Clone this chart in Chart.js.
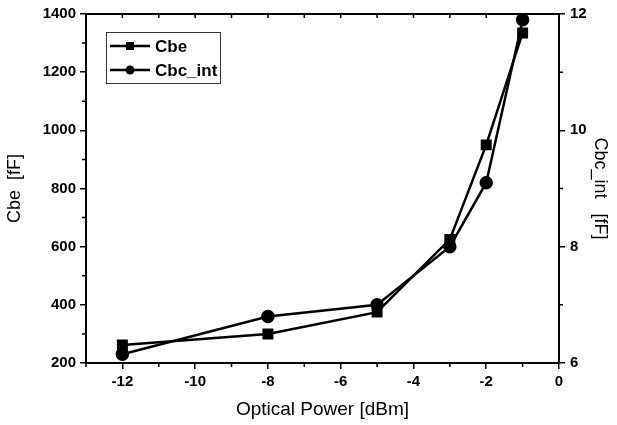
<!DOCTYPE html>
<html>
<head>
<meta charset="utf-8">
<script src="https://cdn.jsdelivr.net/npm/chart.js@4.4.0/dist/chart.umd.min.js"></script>
<style>
  html, body { margin: 0; padding: 0; background: #fff; }
  #wrap { width: 617px; height: 425px; }
</style>
</head>
<body>
<div id="wrap"><canvas id="myChart" width="617" height="425"></canvas></div>
<script>
// data
const power = [-12, -8, -5, -3, -2, -1];
const cbe = [262, 300, 375, 625, 950, 1335];
const cbcInt = [6.15, 6.8, 7.0, 8.0, 9.1, 11.9];

const xTicks = [-12, -10, -8, -6, -4, -2, 0];
const xMinor = [-13, -11, -9, -7, -5, -3, -1];
const yTicks = [200, 400, 600, 800, 1000, 1200, 1400];
const yMinor = [300, 500, 700, 900, 1100, 1300];
const y1Ticks = [6, 8, 10, 12];
const y1Minor = [7, 9, 11];

const tickFont = { family: 'Arial, "Liberation Sans"', size: 15, weight: 'bold' };
const titleFont = { family: 'Arial, "Liberation Sans"', size: 18, weight: 'normal' };

function setTicks(list) {
    return function (scale) {
        scale.ticks = list.map(v => ({ value: v }));
    };
}

const plain = v => String(v);

// minor ticks, top frame line, legend box
const frame = {
    id: 'frame',
    afterDraw(chart) {
        const ctx = chart.ctx;
        const a = chart.chartArea;
        const sx = chart.scales.x, sy = chart.scales.y, sy1 = chart.scales.y1;
        ctx.save();
        ctx.strokeStyle = '#000';
        ctx.lineWidth = 2;
        ctx.beginPath();
        ctx.moveTo(a.left - 1, a.top);
        ctx.lineTo(a.right + 1, a.top);
        ctx.stroke();

        ctx.lineWidth = 1.5;
        ctx.beginPath();
        xMinor.forEach(v => {
            const px = sx.getPixelForValue(v);
            ctx.moveTo(px, a.bottom);
            ctx.lineTo(px, a.bottom + 4);
        });
        for (let v = -12; v <= -1; v++) {
            const px = sx.getPixelForValue(v);
            ctx.moveTo(px, a.top);
            ctx.lineTo(px, a.top + 4);
        }
        yMinor.forEach(v => {
            const py = sy.getPixelForValue(v);
            ctx.moveTo(a.left, py);
            ctx.lineTo(a.left - 4, py);
        });
        y1Minor.forEach(v => {
            const py = sy1.getPixelForValue(v);
            ctx.moveTo(a.right, py);
            ctx.lineTo(a.right + 4, py);
        });
        ctx.stroke();

        // legend
        const lx = 106, ly = 32, lw = 114, lh = 51;
        ctx.lineWidth = 1;
        ctx.strokeStyle = '#333';
        ctx.strokeRect(lx + 0.5, ly + 0.5, lw, lh);
        chart.data.datasets.forEach((ds, i) => {
            const cy = ly + 14 + i * 24;
            ctx.strokeStyle = '#000';
            ctx.lineWidth = 2.5;
            ctx.beginPath();
            ctx.moveTo(lx + 4, cy);
            ctx.lineTo(lx + 44, cy);
            ctx.stroke();
            ctx.fillStyle = '#000';
            if (ds.pointStyle === 'rect') {
                ctx.fillRect(lx + 20, cy - 4, 8, 8);
            } else {
                ctx.beginPath();
                ctx.arc(lx + 24, cy, 4.5, 0, Math.PI * 2);
                ctx.fill();
            }
            ctx.font = 'bold 17px Arial, "Liberation Sans"';
            ctx.textBaseline = 'middle';
            ctx.textAlign = 'left';
            ctx.fillText(ds.label, lx + 49, cy + 1);
        });
        ctx.restore();
    }
};

const data = {
    datasets: [{
        label: 'Cbe',
        data: power.map((p, i) => ({ x: p, y: cbe[i] })),
        yAxisID: 'y',
        borderColor: '#000',
        backgroundColor: '#000',
        borderWidth: 2.5,
        pointStyle: 'rect',
        pointRadius: 6,
        showLine: true
    },
    {
        label: 'Cbc_int',
        data: power.map((p, i) => ({ x: p, y: cbcInt[i] })),
        yAxisID: 'y1',
        borderColor: '#000',
        backgroundColor: '#000',
        borderWidth: 2.5,
        pointStyle: 'circle',
        pointRadius: 5.5,
        showLine: true
    }]
};

const config = {
    type: 'scatter',
    data: data,
    options: {
        responsive: false,
        animation: false,
        layout: { padding: { top: 14, left: 0, right: 0, bottom: 0 } },
        scales: {
            x: {
                type: 'linear',
                min: -13,
                max: 0,
                afterBuildTicks: setTicks(xTicks),
                afterFit(scale) { scale.height = 62; },
                border: { color: '#000', width: 2 },
                grid: { drawOnChartArea: false, color: '#000', tickLength: 6, lineWidth: 1.5 },
                ticks: { color: '#000', font: tickFont, padding: 4, maxRotation: 0, callback: plain },
                title: { display: true, text: 'Optical Power [dBm]', color: '#000', font: { family: titleFont.family, size: 19 }, padding: { top: 2 } }
            },
            y: {
                position: 'left',
                min: 200,
                max: 1400,
                afterBuildTicks: setTicks(yTicks),
                afterFit(scale) { scale.width = 86; },
                border: { color: '#000', width: 2 },
                grid: { drawOnChartArea: false, color: '#000', tickLength: 6, lineWidth: 1.5 },
                ticks: { color: '#000', font: tickFont, padding: 4, callback: plain },
                title: { display: true, text: 'Cbe  [fF]', color: '#000', font: titleFont, padding: { bottom: 2 } }
            },
            y1: {
                position: 'right',
                min: 6,
                max: 12,
                afterBuildTicks: setTicks(y1Ticks),
                afterFit(scale) { scale.width = 58; },
                border: { color: '#000', width: 2 },
                grid: { drawOnChartArea: false, color: '#000', tickLength: 6, lineWidth: 1.5 },
                ticks: { color: '#000', font: tickFont, padding: 5, callback: plain },
                title: { display: true, text: 'Cbc_int   [fF]', color: '#000', font: titleFont, padding: { top: 6 } }
            }
        },
        plugins: {
            legend: { display: false },
            tooltip: { enabled: false }
        }
    },
    plugins: [frame]
};

const myChart = new Chart(
    document.getElementById('myChart'),
    config
);
</script>
</body>
</html>
